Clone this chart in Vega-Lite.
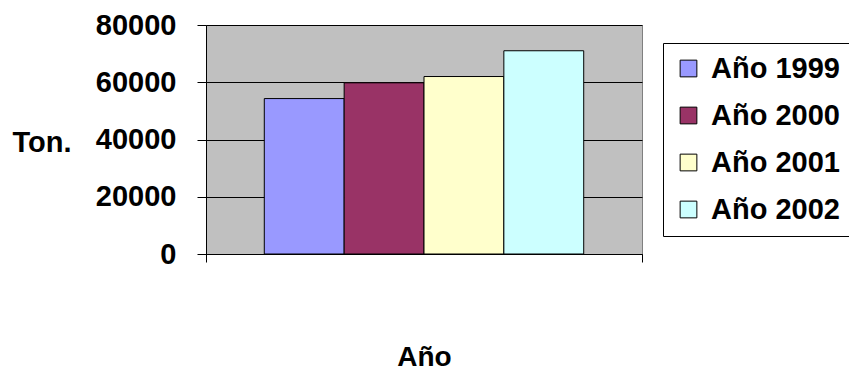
{
  "$schema": "https://vega.github.io/schema/vega-lite/v6.json",
  "width": 436,
  "height": 229,
  "autosize": {"type": "none"},
  "padding": {"left": 206, "top": 25, "right": 207, "bottom": 118},
  "background": "white",
  "config": {
    "font": "Liberation Sans",
    "view": {"fill": "#C0C0C0", "stroke": "#808080", "strokeWidth": 1}
  },
  "data": {
    "values": [
      {"cat": "Año", "serie": "Año 1999", "ton": 54300},
      {"cat": "Año", "serie": "Año 2000", "ton": 59800},
      {"cat": "Año", "serie": "Año 2001", "ton": 62000},
      {"cat": "Año", "serie": "Año 2002", "ton": 71000}
    ]
  },
  "mark": {"type": "bar", "stroke": "black", "strokeWidth": 1},
  "encoding": {
    "x": {
      "field": "cat",
      "type": "nominal",
      "scale": {"paddingInner": 0, "paddingOuter": 0},
      "axis": {
        "title": "Año",
        "labels": false,
        "tickBand": "extent",
        "tickSize": 8,
        "tickColor": "black",
        "domainColor": "black",
        "titleFont": "Liberation Sans",
        "titleFontSize": 28,
        "titleFontWeight": "bold",
        "titleColor": "black",
        "titlePadding": 81
      }
    },
    "xOffset": {
      "field": "serie",
      "type": "nominal",
      "scale": {"paddingInner": 0, "paddingOuter": 0.73}
    },
    "y": {
      "field": "ton",
      "type": "quantitative",
      "scale": {"domain": [0, 80000], "nice": false},
      "axis": {
        "values": [0, 20000, 40000, 60000, 80000],
        "format": "d",
        "grid": true,
        "gridColor": "black",
        "gridOpacity": 1,
        "domainColor": "black",
        "tickColor": "black",
        "tickSize": 9,
        "labelPadding": 21,
        "labelFont": "Liberation Sans",
        "labelFontSize": 29,
        "labelFontWeight": "bold",
        "labelColor": "black",
        "title": "Ton.",
        "titleAngle": 0,
        "titleAlign": "left",
        "titleBaseline": "middle",
        "titleX": -194,
        "titleY": 117,
        "titleFont": "Liberation Sans",
        "titleFontSize": 29,
        "titleFontWeight": "bold",
        "titleColor": "black"
      }
    },
    "color": {
      "field": "serie",
      "type": "nominal",
      "scale": {
        "domain": ["Año 1999", "Año 2000", "Año 2001", "Año 2002"],
        "range": ["#9999FF", "#993366", "#FFFFCC", "#CCFFFF"]
      },
      "legend": {
        "title": null,
        "orient": "none",
        "legendX": 457,
        "legendY": 18,
        "padding": 11,
        "strokeColor": "black",
        "fillColor": "white",
        "symbolType": "square",
        "symbolSize": 280,
        "symbolStrokeColor": "black",
        "symbolStrokeWidth": 1,
        "labelFont": "Liberation Sans",
        "labelFontSize": 29,
        "labelFontWeight": "bold",
        "labelColor": "black",
        "labelOffset": 8,
        "rowPadding": 17,
        "labelLimit": 300
      }
    }
  }
}
